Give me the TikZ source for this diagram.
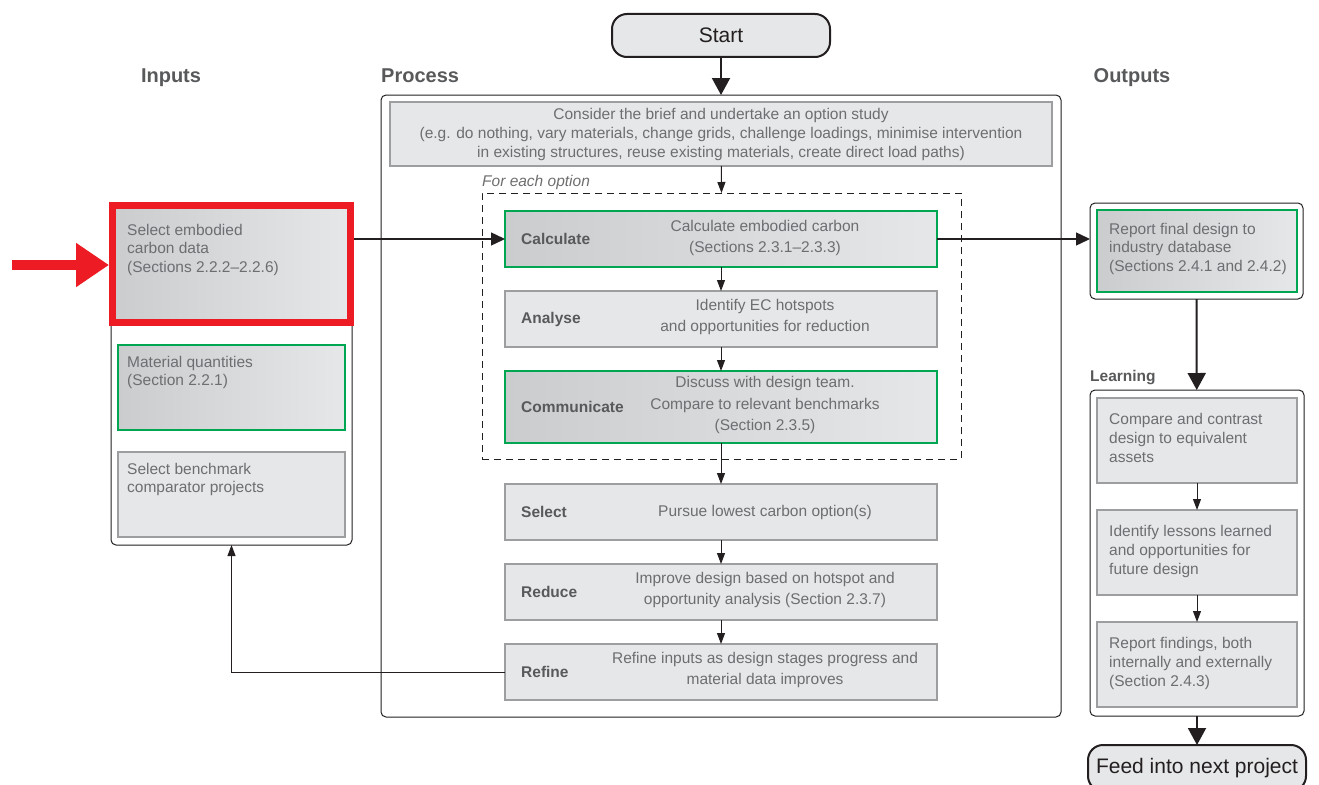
\documentclass[tikz,border=0pt]{standalone}
\usepackage{fontspec}
\setmainfont{Liberation Sans}
\usetikzlibrary{arrows.meta,calc}
\definecolor{boxfill}{HTML}{E6E7E8}
\definecolor{gradL}{HTML}{CBCCCE}
\definecolor{boxline}{HTML}{9D9EA0}
\definecolor{grn}{HTML}{00A651}
\definecolor{redc}{HTML}{ED1C24}
\definecolor{txt}{HTML}{6D6E71}
\definecolor{lbl}{HTML}{58595B}
\definecolor{ink}{HTML}{231F20}
\begin{document}
\begin{tikzpicture}[x=1pt,y=-1pt,
  gbox/.style={draw=boxline, fill=boxfill, line width=1.2pt, inner sep=0pt, outer sep=0pt, anchor=north west},
  grbox/.style={draw=grn, line width=2.2pt, left color=gradL, right color=boxfill, inner sep=0pt, outer sep=0pt, anchor=north west},
  obox/.style={draw=ink, line width=1pt, rounded corners=5pt, inner sep=0pt, outer sep=0pt, anchor=north west},
  term/.style={draw=ink, fill=boxfill, line width=2pt, rounded corners=15pt, inner sep=0pt, outer sep=0pt, anchor=north west, font=\fontsize{21}{24}\selectfont, text=ink},
  desc/.style={text=txt, align=center, inner sep=0pt, font=\fontsize{15.5}{21.5}\selectfont},
  ldesc/.style={text=txt, align=left, inner sep=0pt, anchor=north west, font=\fontsize{15.5}{18.5}\selectfont},
  blbl/.style={text=lbl, inner sep=0pt, anchor=west, font=\fontsize{15.5}{18}\selectfont\bfseries},
  head/.style={text=lbl, inner sep=0pt, anchor=base, font=\fontsize{20}{24}\selectfont\bfseries},
  arr/.style={draw=ink, line width=1pt, -{Triangle[length=11pt,width=8pt]}},
  marr/.style={draw=ink, line width=1.4pt, -{Triangle[length=14pt,width=13pt]}},
  barr/.style={draw=ink, line width=2pt, -{Triangle[length=17pt,width=18pt]}}
]
\useasboundingbox (0,0) rectangle (1319,784);

% headings
\node[head] (hin) at (171,82) {Inputs};
\node[head, anchor=base west] (hproc) at (381,82) {Process};
\node[head] (hout) at (1132,82) {Outputs};

% start
\node[term, minimum width=218pt, minimum height=43pt] (start) at (612,14) {Start};

% process outer
\node[obox, minimum width=680pt, minimum height=622pt] (proc) at (381,95) {};
\node[gbox, minimum width=662pt, minimum height=64pt] (study) at (390,102) {};
\node[desc, font=\fontsize{15.5}{19}\selectfont] (studyD) at (study.center) {Consider the brief and undertake an option study\\(e.g. do nothing, vary materials, change grids, challenge loadings, minimise intervention\\in existing structures, reuse existing materials, create direct load paths)};

% dashed option box
\node[draw=ink, line width=1pt, dash pattern=on 7pt off 5pt, inner sep=0pt, outer sep=0pt, anchor=north west, minimum width=479pt, minimum height=266pt] (dash) at (482,193) {};
\node[text=txt, inner sep=0pt, anchor=base west, font=\fontsize{15.5}{18}\selectfont\itshape] (foreach) at (482,186) {For each option};

% process steps
\node[grbox, minimum width=432pt, minimum height=56pt] (calc) at (505,211) {};
\node[blbl] (calcL) at ($(calc.west)+(16,0)$) {Calculate};
\node[desc] (calcD) at (765,238) {Calculate embodied carbon\\(Sections 2.3.1--2.3.3)};

\node[gbox, minimum width=432pt, minimum height=56pt] (anal) at (505,291) {};
\node[blbl] (analL) at ($(anal.west)+(16,0)$) {Analyse};
\node[desc] (analD) at (765,317) {Identify EC hotspots\\and opportunities for reduction};

\node[grbox, minimum width=432pt, minimum height=72pt] (comm) at (505,371) {};
\node[blbl] (commL) at ($(comm.west)+(16,0)$) {Communicate};
\node[desc] (commD) at (765,405) {Discuss with design team.\\Compare to relevant benchmarks\\(Section 2.3.5)};

\node[gbox, minimum width=432pt, minimum height=56pt] (sel) at (505,484) {};
\node[blbl] (selL) at ($(sel.west)+(16,0)$) {Select};
\node[desc] (selD) at (765,512) {Pursue lowest carbon option(s)};

\node[gbox, minimum width=432pt, minimum height=56pt] (red) at (505,564) {};
\node[blbl] (redL) at ($(red.west)+(16,0)$) {Reduce};
\node[desc] (redD) at (765,590) {Improve design based on hotspot and\\opportunity analysis (Section 2.3.7)};

\node[gbox, minimum width=432pt, minimum height=56pt] (ref) at (505,644) {};
\node[blbl] (refL) at ($(ref.west)+(16,0)$) {Refine};
\node[desc] (refD) at (765,670) {Refine inputs as design stages progress and\\material data improves};

% inputs
\node[obox, minimum width=241pt, minimum height=342pt] (inbox) at (111,203) {};
\node[grbox, minimum width=227pt, minimum height=85pt] (matq) at (118,345) {};
\node[ldesc] (matqD) at (127,356) {Material quantities\\(Section 2.2.1)};
\node[gbox, minimum width=227pt, minimum height=85pt] (bench) at (118,452) {};
\node[ldesc] (benchD) at (127,463) {Select benchmark\\comparator projects};

% outputs
\node[obox, minimum width=213pt, minimum height=96pt] (repout) at (1090,203) {};
\node[grbox, minimum width=200pt, minimum height=82pt] (repin) at (1097,210) {};
\node[ldesc] (repD) at (1109,223) {Report final design to\\industry database\\(Sections 2.4.1 and 2.4.2)};

\node[text=lbl, inner sep=0pt, anchor=base west, font=\fontsize{15.5}{18}\selectfont\bfseries] (learnT) at (1090,381) {Learning};
\node[obox, minimum width=214pt, minimum height=326pt] (learn) at (1090,390) {};
\node[gbox, minimum width=200pt, minimum height=85pt] (cmp) at (1097,398) {};
\node[ldesc, font=\fontsize{15.5}{19}\selectfont] (cmpD) at (1109,413) {Compare and contrast\\design to equivalent\\assets};
\node[gbox, minimum width=200pt, minimum height=85pt] (les) at (1097,510) {};
\node[ldesc, font=\fontsize{15.5}{19}\selectfont] (lesD) at (1109,525) {Identify lessons learned\\and opportunities for\\future design};
\node[gbox, minimum width=200pt, minimum height=85pt] (fnd) at (1097,622) {};
\node[ldesc, font=\fontsize{15.5}{19}\selectfont] (fndD) at (1109,637) {Report findings, both\\internally and externally\\(Section 2.4.3)};

\node[term, minimum width=218pt, minimum height=46pt] (feed) at (1088,745) {Feed into next project};

% connectors
\draw[barr] (start) -- (proc.north);
\draw[arr] (study) -- (dash.north);
\draw[arr] (calc) -- (anal);
\draw[arr] (anal) -- (comm);
\draw[arr] (comm) -- (sel);
\draw[arr] (sel) -- (red);
\draw[arr] (red) -- (ref);
\draw[arr] (ref.west) -| (inbox.south);
\draw[marr] (calc.east) -- (calc.east -| repout.west);
\draw[barr] (repout) -- (learn);
\draw[arr] (cmp) -- (les);
\draw[arr] (les) -- (fnd);
\draw[barr] (learn) -- (feed);

% highlighted embodied carbon data box
\node[draw=redc, line width=7pt, left color=gradL, right color=boxfill, inner sep=0pt, outer sep=0pt, anchor=north west, minimum width=238pt, minimum height=117pt] (ecd) at (112.5,205.5) {};
\node[ldesc] (ecdD) at (127,224) {Select embodied\\carbon data\\(Sections 2.2.2--2.2.6)};
\draw[marr] ($(ecd.east |- calc.west)+(3.5,0)$) -- (calc.west);
\coordinate (redtail) at (12,265);
\draw[draw=redc, line width=10pt, -{Triangle[length=33pt,width=42pt]}] (redtail) -- ($(ecd.west |- redtail)+(-3.5,0)$);
\end{tikzpicture}
\end{document}
